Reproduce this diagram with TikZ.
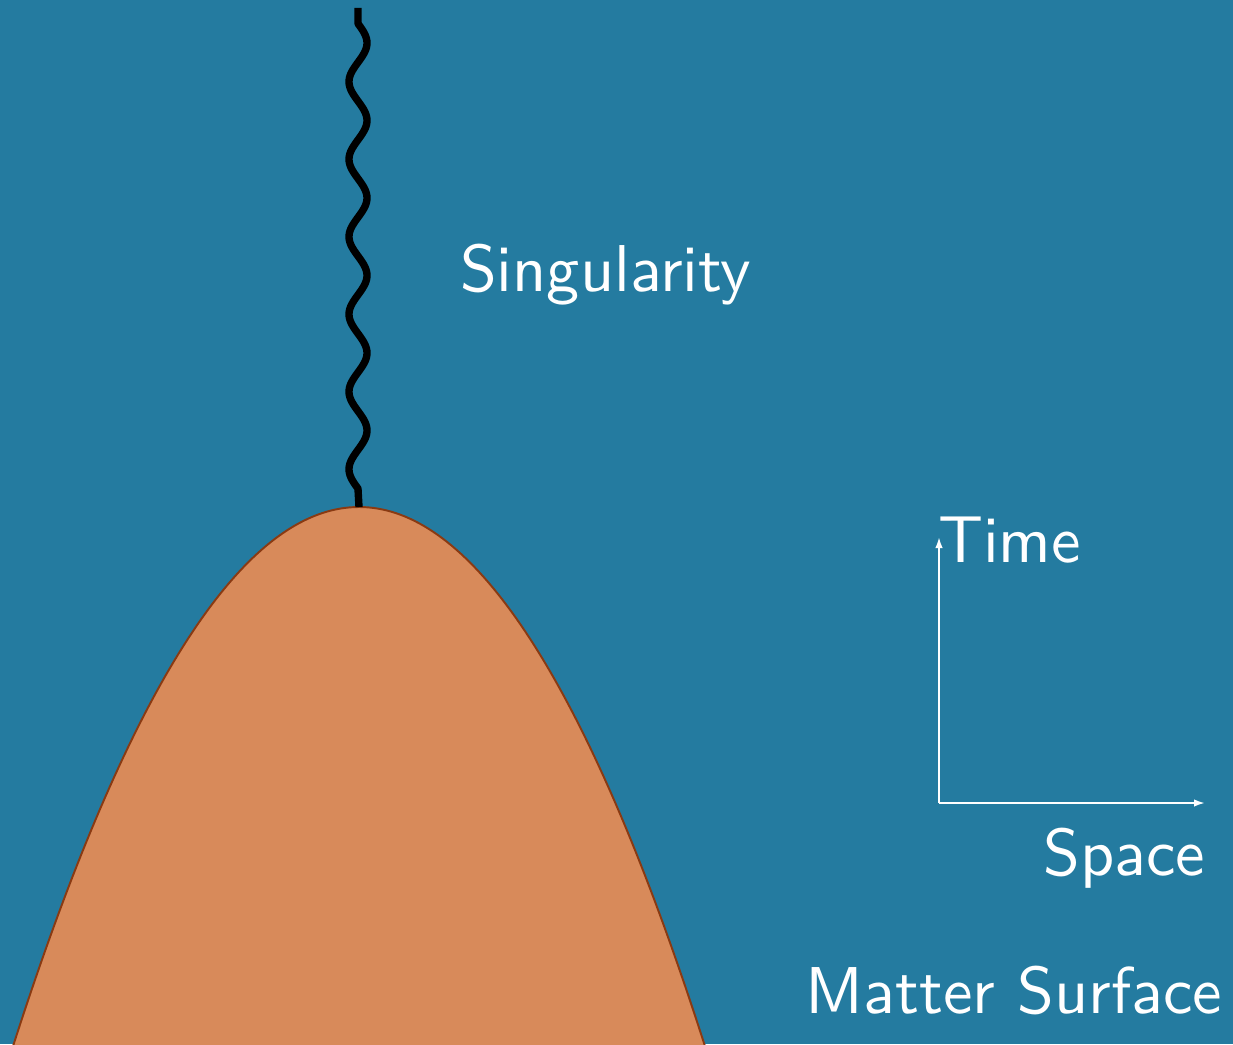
\documentclass[tikz,border=0pt]{standalone}
\usetikzlibrary{arrows.meta}
\definecolor{bgblue}{HTML}{247BA0}
\definecolor{matter}{HTML}{D88A5A}
\definecolor{matteredge}{HTML}{8A3A12}
\tikzset{
  label text/.style={text=white, font=\sffamily, scale=3.77, inner sep=0pt, outer sep=0pt},
  wiggle/.style={line width=4.2pt, black, line cap=butt, line join=round},
  axis/.style={white, line width=1.1pt, -{Latex[length=0.22cm,width=0.15cm]}},
  matterbody/.style={fill=matter, draw=matteredge, line width=1.1pt}
}
\begin{document}
\begin{tikzpicture}[x=0.02cm,y=-0.02cm]
  \fill[bgblue] (0,0) rectangle (1233,1044);
  \useasboundingbox (0,0) rectangle (1233,1044);
  \begin{scope}
    \clip (0,0) rectangle (1233,1044);
    \path[matterbody] plot[domain=-24.8:24.8, samples=161] ({359+14.9*\x},{507+\x*\x}) -- cycle;
  \end{scope}
  \coordinate (apex) at (359,507);
  \coordinate (wtop) at (358,8);
  \draw[wiggle] (wtop) -- (358,23.6) -- plot[domain=23.6:488.6, samples=241] ({358+9*sin((\x-23.6)*4.645)},\x) -- (apex);
  \coordinate (O) at (939,803);
  \coordinate (T) at (939,537);
  \coordinate (S) at (1205,803);
  \draw[axis] (O) -- (T);
  \draw[axis] (O) -- (S);
  \node[label text, anchor=base west] (sing) at (460,291) {Singularity};
  \node[label text, anchor=base west] (time) at (938,562) {Time};
  \node[label text, anchor=base east] (space) at (1205,875) {Space};
  \node[label text, anchor=base east] (matterlabel) at (1222,1013) {Matter Surface};
\end{tikzpicture}
\end{document}
